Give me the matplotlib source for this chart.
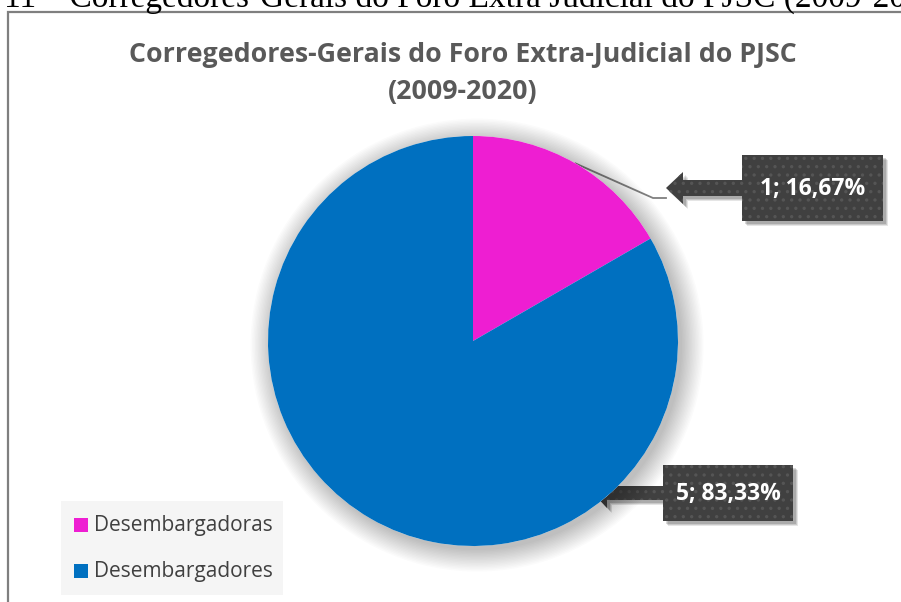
import matplotlib
matplotlib.use('Agg')
import matplotlib.pyplot as plt
from matplotlib.patches import Polygon, Rectangle, Circle
import numpy as np

# dados do grafico
categorias = ['Desembargadoras', 'Desembargadores']
valores = [1, 5]
cores = ['#EE1ED2', '#0070C0']
titulo = 'Corregedores-Gerais do Foro Extra-Judicial do PJSC\n(2009-2020)'
legenda_doc = 'Gráfico 11 – Corregedores-Gerais do Foro Extra Judicial do PJSC (2009-2020)'

W, H = 901, 602
fig = plt.figure(figsize=(W / 100, H / 100), dpi=100)
fig.patch.set_facecolor('white')

# camada em pixels para moldura, rotulos, legenda
bg = fig.add_axes([0, 0, 1, 1])
bg.set_xlim(0, W)
bg.set_ylim(H, 0)
bg.axis('off')

# legenda do documento (cortada no topo)
bg.text(-106, 7, legenda_doc, family='Liberation Serif', fontsize=24,
        ha='left', va='baseline', color='black', clip_on=False)

# moldura do grafico
bg.plot([8, 8, W + 5], [H + 5, 12, 12], color='#7f7f7f', lw=1.6, solid_joinstyle='miter')

# pizza
cx, cy, r = 473, 341, 205
ax = fig.add_axes([(cx - r) / W, (H - cy - r) / H, 2 * r / W, 2 * r / H])
ax.axis('off')

wedges, _ = ax.pie(valores, colors=cores, startangle=90, counterclock=False,
                   radius=1.0, wedgeprops=dict(linewidth=0))
for w in wedges:
    w.set_zorder(1)
ax.set_xlim(-1, 1)
ax.set_ylim(-1, 1)

# sombra suave
for k in range(16):
    ax.add_patch(Circle((0.02, -0.02), 1.0 + 0.007 * k, color='#000000',
                        alpha=0.015, lw=0, zorder=0, clip_on=False))
ax.add_patch(Circle((0, 0), 1.0, color='white', lw=0, zorder=0.5))

total = sum(valores)
rotulos = ['%d; %s%%' % (v, ('%.2f' % (100.0 * v / total)).replace('.', ',')) for v in valores]

# ponto do contorno no meio da fatia rosa (linha de chamada)
ang = np.deg2rad((wedges[0].theta1 + wedges[0].theta2) / 2)
px, py = cx + r * np.cos(ang), cy - r * np.sin(ang)
bg.plot([px, 653, 666], [py, 198, 198], color='#7f7f7f', lw=1.3, zorder=3)

plt.rcParams['hatch.linewidth'] = 1.2


def callout(box, tip, head_x, head_h, shaft_h, texto):
    x0, y0, x1, y1 = box
    tx, ty = tip
    pts = [(tx, ty), (head_x, ty - head_h), (head_x, ty - shaft_h), (x0, ty - shaft_h),
           (x0, y0), (x1, y0), (x1, y1), (x0, y1), (x0, ty + shaft_h),
           (head_x, ty + shaft_h), (head_x, ty + head_h)]
    # sombra
    for d, a in [(5, 0.10), (4, 0.12), (3, 0.15)]:
        sh = [(x + d, y + d) for x, y in pts]
        bg.add_patch(Polygon(sh, closed=True, fc='black', ec='none', alpha=a, zorder=4))
    bg.add_patch(Polygon(pts, closed=True, fc='#404040', ec='none', zorder=5))
    bg.add_patch(Polygon(pts, closed=True, fc='none', ec='#555555', lw=0,
                         hatch='..', zorder=5.5))
    bg.text((x0 + x1) / 2, (y0 + y1) / 2 + 1, texto, color='white', fontsize=16.5,
            fontweight='bold', family='Open Sans', ha='center', va='center', zorder=6)


callout((742, 155, 883, 221), (666, 188), 683, 16, 8, rotulos[0])
callout((663, 465, 793, 521), (593, 493), 607, 15, 7, rotulos[1])

# titulo
bg.text(463, 74, titulo, ha='center', va='center', fontsize=19.3, fontweight='bold',
        family='Open Sans', color='#595959', linespacing=1.55)

# legenda
bg.add_patch(Rectangle((61, 501), 222, 94, fc='#F5F5F5', ec='none', zorder=2))
for i, (cat, cor) in enumerate(zip(categorias, cores)):
    yy = 525 + 46 * i
    bg.add_patch(Rectangle((74, yy - 7), 14, 14, fc=cor, ec='none', zorder=3))
    bg.text(94, yy, cat, fontsize=15, family='Open Sans', color='#404040',
            ha='left', va='center', zorder=3)

fig.savefig('out.png', dpi=100)
